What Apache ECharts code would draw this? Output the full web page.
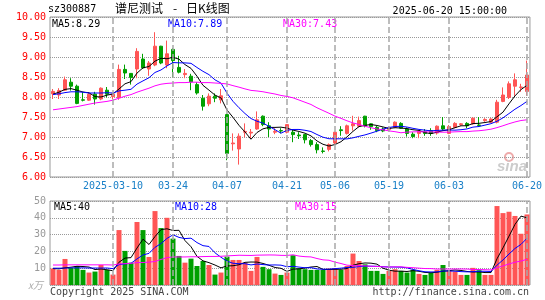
<!DOCTYPE html>
<html><head><meta charset="utf-8">
<script src="https://cdn.jsdelivr.net/npm/echarts@6/dist/echarts.min.js"></script>
<style>html,body{margin:0;padding:0;background:#fff}#c{width:545px;height:300px}</style>
</head><body><div id="c"></div>
<script>
const dates = ['2025-02-24','2025-02-25','2025-02-26','2025-02-27','2025-02-28',
'2025-03-03','2025-03-04','2025-03-05','2025-03-06','2025-03-07',
'2025-03-10','2025-03-11','2025-03-12','2025-03-13','2025-03-14',
'2025-03-17','2025-03-18','2025-03-19','2025-03-20','2025-03-21',
'2025-03-24','2025-03-25','2025-03-26','2025-03-27','2025-03-28','2025-03-31',
'2025-04-01','2025-04-02','2025-04-03',
'2025-04-07','2025-04-08','2025-04-09','2025-04-10','2025-04-11',
'2025-04-14','2025-04-15','2025-04-16','2025-04-17','2025-04-18',
'2025-04-21','2025-04-22','2025-04-23','2025-04-24','2025-04-25',
'2025-04-28','2025-04-29','2025-04-30',
'2025-05-06','2025-05-07','2025-05-08','2025-05-09',
'2025-05-12','2025-05-13','2025-05-14','2025-05-15','2025-05-16',
'2025-05-19','2025-05-20','2025-05-21','2025-05-22','2025-05-23',
'2025-05-26','2025-05-27','2025-05-28','2025-05-29','2025-05-30',
'2025-06-03','2025-06-04','2025-06-05','2025-06-06',
'2025-06-09','2025-06-10','2025-06-11','2025-06-12','2025-06-13',
'2025-06-16','2025-06-17','2025-06-18','2025-06-19','2025-06-20'];

const opens = [8.08,8.05,8.17,8.37,8.27,7.93,7.92,8.07,7.95,8.17,
8.01,7.98,8.69,8.59,8.70,8.95,8.70,8.80,9.27,8.80,
9.19,8.74,8.56,8.52,8.31,7.97,7.83,8.02,7.93,7.56,
6.83,6.70,7.12,7.10,7.20,7.52,7.28,7.12,7.16,7.12,
7.12,7.05,7.06,6.91,6.81,6.65,6.69,6.85,7.18,7.09,
7.28,7.27,7.52,7.33,7.24,7.20,7.19,7.24,7.34,7.20,
7.07,7.09,7.13,7.16,7.10,7.28,7.09,7.24,7.31,7.34,
7.33,7.30,7.41,7.37,7.37,7.89,7.99,8.27,8.24,8.14];
const closes = [8.14,8.16,8.43,8.27,7.84,7.92,8.07,7.95,8.22,8.07,
8.07,8.69,8.60,8.49,9.14,8.73,8.85,9.27,8.85,9.08,
8.91,8.62,8.59,8.38,8.10,7.77,8.02,7.97,8.03,6.59,
6.85,7.02,7.14,7.12,7.43,7.31,7.20,7.14,7.15,7.31,
7.06,7.03,6.93,6.81,6.68,6.64,6.81,7.12,7.16,7.28,
7.33,7.41,7.28,7.26,7.16,7.15,7.22,7.37,7.22,7.09,
7.01,7.14,7.09,7.09,7.27,7.20,7.26,7.34,7.33,7.28,
7.47,7.29,7.44,7.45,7.87,8.05,8.33,8.43,8.25,8.55];
const highs = [8.20,8.22,8.51,8.47,8.31,8.12,8.12,8.13,8.24,8.25,
8.10,8.81,8.81,8.60,9.22,9.08,8.90,9.62,9.28,9.41,
9.22,9.03,8.70,8.58,8.37,8.05,8.09,8.09,8.20,7.58,
7.09,7.09,7.34,7.20,7.64,7.54,7.37,7.22,7.22,7.32,
7.20,7.12,7.08,6.95,6.87,6.74,6.84,7.13,7.27,7.31,
7.53,7.51,7.53,7.34,7.28,7.24,7.26,7.39,7.37,7.24,
7.12,7.17,7.20,7.22,7.29,7.50,7.30,7.37,7.35,7.37,
7.49,7.50,7.47,7.47,7.93,8.24,8.39,8.59,8.33,8.91];
const lows = [7.95,7.95,8.15,8.16,7.82,7.89,7.90,7.81,7.92,7.99,
7.95,7.93,8.45,8.31,8.47,8.70,8.53,8.77,8.82,8.72,
8.49,8.59,8.47,8.17,8.06,7.66,7.77,7.87,7.84,6.42,
6.66,6.31,6.99,6.95,7.18,7.27,7.00,7.07,7.09,7.09,
6.87,6.95,6.84,6.76,6.59,6.59,6.64,6.82,7.03,7.06,
7.16,7.24,7.24,7.18,7.12,7.12,7.16,7.22,7.20,7.01,
6.97,6.97,7.03,7.03,7.06,7.16,7.07,7.22,7.28,7.22,
7.31,7.25,7.38,7.35,7.34,7.87,7.95,8.03,8.13,8.03];

const ma5 = [8.07,8.12,8.19,8.21,8.168,8.124,8.106,8.01,8.00,8.046,
8.076,8.20,8.33,8.384,8.598,8.73,8.762,8.896,8.968,8.956,
8.992,8.946,8.81,8.716,8.52,8.292,8.172,8.048,7.978,7.676,
7.492,7.292,7.126,6.944,7.112,7.204,7.24,7.24,7.246,7.222,
7.172,7.138,7.096,7.028,6.902,6.818,6.774,6.812,6.882,7.002,
7.14,7.26,7.292,7.312,7.288,7.252,7.214,7.232,7.224,7.21,
7.182,7.166,7.11,7.084,7.12,7.158,7.182,7.232,7.28,7.282,
7.336,7.342,7.362,7.386,7.504,7.62,7.828,8.026,8.186,8.29];
const ma10 = [8.06,8.08,8.11,8.13,8.13,8.12,8.10,8.10,8.10,8.107,
8.10,8.153,8.17,8.192,8.322,8.403,8.481,8.613,8.676,8.777,
8.861,8.854,8.853,8.842,8.738,8.642,8.559,8.429,8.347,8.098,
7.892,7.732,7.587,7.461,7.394,7.348,7.266,7.183,7.095,7.167,
7.188,7.189,7.168,7.137,7.062,6.995,6.956,6.954,6.955,6.952,
6.979,7.017,7.052,7.097,7.145,7.196,7.237,7.262,7.268,7.249,
7.217,7.19,7.171,7.154,7.165,7.17,7.174,7.171,7.182,7.201,
7.247,7.262,7.297,7.333,7.393,7.478,7.585,7.694,7.786,7.89];
const ma30 = [7.68,7.70,7.72,7.74,7.76,7.79,7.82,7.85,7.87,7.89,
7.92,7.97,8.02,8.06,8.12,8.17,8.22,8.28,8.32,8.34,
8.35,8.36,8.36,8.37,8.37,8.36,8.36,8.35,8.34,8.327,
8.284,8.246,8.203,8.165,8.151,8.131,8.102,8.075,8.039,8.014,
7.980,7.925,7.869,7.813,7.731,7.662,7.594,7.522,7.466,7.406,
7.353,7.313,7.269,7.232,7.200,7.180,7.153,7.133,7.106,7.123,
7.128,7.132,7.130,7.129,7.124,7.120,7.122,7.129,7.135,7.134,
7.148,7.156,7.173,7.195,7.234,7.281,7.332,7.376,7.412,7.43];

const volumes = [9.8,9.0,15.5,10.2,11.3,9.0,7.4,8.0,11.9,9.0,
6.2,32.7,20.3,13.3,37.5,32.7,16.7,44.0,33.9,40.0,
27.6,17.3,13.3,15.7,11.3,14.3,11.9,6.2,7.4,16.9,
14.9,14.9,13.3,8.4,16.7,10.8,9.4,6.8,6.0,7.4,
17.7,10.0,9.4,9.0,9.0,9.0,9.8,10.0,9.0,11.3,
18.7,14.3,12.3,8.4,8.4,6.6,8.4,9.4,8.4,7.4,
9.0,6.6,6.0,7.4,9.0,11.9,8.4,8.0,6.0,6.0,
10.2,8.8,6.0,6.0,47.0,42.8,43.6,41.1,30.5,42.0];
const volMa5 = [9.8,9.6,10.2,10.6,11.16,11.0,10.68,9.18,9.52,9.06,
8.5,13.56,16.02,16.3,22.0,27.3,24.1,28.84,32.96,33.46,
32.44,32.56,26.42,22.78,17.04,14.38,13.3,11.88,10.22,11.34,
11.46,12.06,13.48,13.68,13.64,12.82,11.72,10.42,9.94,8.08,
9.46,9.58,10.1,10.7,11.02,9.28,9.24,9.36,9.36,9.82,
11.76,12.66,13.12,13.0,12.42,10.0,8.82,8.24,8.24,8.04,
8.52,8.16,7.48,7.28,7.6,8.18,8.54,8.94,8.66,8.06,
7.72,7.8,7.4,7.4,15.6,22.12,29.08,36.1,41.0,40.0];
const volMa10 = [10.0,10.0,10.1,10.2,10.2,10.2,10.1,10.1,10.1,10.11,
9.75,12.12,12.6,12.91,15.53,17.9,18.83,22.43,24.63,27.73,
29.87,28.33,27.63,27.87,25.25,23.41,22.93,19.15,16.5,14.19,
12.92,12.68,12.68,11.95,12.49,12.14,11.89,11.95,11.81,10.86,
11.14,10.65,10.26,10.32,9.55,9.37,9.41,9.73,10.03,10.42,
10.52,10.95,11.24,11.18,11.12,10.88,10.74,10.68,10.62,10.23,
9.26,8.49,7.86,7.76,7.82,8.35,8.35,8.21,7.97,7.83,
7.95,8.17,8.17,8.03,11.83,14.92,18.44,21.75,24.2,27.8];
const volMa30 = [11.9,11.9,12.0,12.0,12.0,12.0,12.0,12.0,12.0,12.0,
11.9,12.5,12.7,12.9,13.3,13.4,13.6,14.0,15.2,16.3,
16.7,16.7,16.7,16.8,16.8,16.9,17.0,17.0,17.1,17.34,
17.51,17.71,17.64,17.58,17.76,17.82,17.88,17.84,17.65,17.59,
17.98,17.22,16.86,16.71,15.76,14.97,14.74,13.61,12.78,11.82,
11.53,11.43,11.39,11.15,11.05,10.80,10.68,10.79,10.82,10.50,
10.31,10.03,9.79,9.75,9.50,9.53,9.50,9.54,9.54,9.49,
9.24,9.20,9.09,8.99,10.26,11.38,12.51,13.55,14.26,15.29];

const labelIdx = [10,20,29,39,47,56,66,79];
const labelText = ['2025-03-10','03-24','04-07','04-21','05-06','05-19','06-03','06-20'];
const priceLegend = ['MA5:8.29','MA10:7.89','MA30:7.43'];
const volLegend = ['MA5:40','MA10:28','MA30:15'];

const UP = '#ff5555', DOWN = '#00a000';
const MONO = "'DejaVu Sans Mono', 'Liberation Mono', monospace";
const CJK = "'Noto Sans CJK SC', sans-serif";

const kData = dates.map((d,i)=>[opens[i],closes[i],lows[i],highs[i]]);
const volData = volumes.map((v,i)=>({value:v, itemStyle:{color: closes[i]>=opens[i]?UP:DOWN}}));

const isLabel = (i)=>labelIdx.indexOf(i)>=0;
function hSplit(){ return {show:true, lineStyle:{color:'#999', type:'dotted', width:1}}; }
// vertical date gridlines drawn as markLines on the real series, at labelled categories
function dateMarkLine(){
  return {symbol:['none','none'], silent:true, animation:false, label:{show:false},
    emphasis:{disabled:true},
    lineStyle:{color:'#a8a8a8', type:'dashed', width:1.5, opacity:1},
    data: labelIdx.map(k=>({xAxis:dates[k]}))};
}

const GRIDS = [{left:50, top:17, width:480, height:160}, {left:50, top:201, width:480, height:84}];

const chart = echarts.init(document.getElementById('c'), null, {renderer:'canvas'});
chart.setOption({
  animation:false,
  backgroundColor:'#fff',
  grid: GRIDS.map(g=>Object.assign({show:true, borderColor:'#999', borderWidth:1}, g)),
  xAxis:[
    {type:'category', gridIndex:0, data:dates, boundaryGap:true,
     axisLine:{show:false}, axisTick:{show:false},
     axisLabel:{show:true, interval:(i)=>isLabel(i), color:'#1a80c8', fontFamily:MONO, fontSize:10, margin:4,
       formatter:(v,i)=>{const k=labelIdx.indexOf(i); return k>=0?labelText[k]:'';}},
     splitLine:{show:false}},
    {type:'category', gridIndex:1, data:dates, boundaryGap:true,
     axisLine:{show:false}, axisTick:{show:false}, axisLabel:{show:false}, splitLine:{show:false}}
  ],
  yAxis:[
    {type:'value', gridIndex:0, min:6, max:10, interval:0.5,
     axisLine:{show:false}, axisTick:{show:false},
     axisLabel:{color:'#f00', fontFamily:MONO, fontSize:10, margin:4, formatter:(v)=>v.toFixed(2)},
     splitLine:hSplit()},
    {type:'value', gridIndex:1, min:0, max:50, interval:10,
     axisLine:{show:false}, axisTick:{show:false},
     axisLabel:{color:'#999', fontFamily:MONO, fontSize:10, margin:4, formatter:(v)=>v===0?'':String(v)},
     splitLine:hSplit()}
  ],
  series:[
    {type:'candlestick', xAxisIndex:0, yAxisIndex:0, data:kData, barWidth:4, z:3,
     itemStyle:{color:UP, color0:DOWN, borderColor:UP, borderColor0:DOWN, borderWidth:1},
     markLine: dateMarkLine()},
    {type:'line', xAxisIndex:0, yAxisIndex:0, data:ma5, symbol:'none', z:4, lineStyle:{color:'#000', width:1}},
    {type:'line', xAxisIndex:0, yAxisIndex:0, data:ma10, symbol:'none', z:4, lineStyle:{color:'#0000ff', width:1}},
    {type:'line', xAxisIndex:0, yAxisIndex:0, data:ma30, symbol:'none', z:4, lineStyle:{color:'#ff00ff', width:1}},
    {type:'bar', xAxisIndex:1, yAxisIndex:1, data:volData, barWidth:5, z:3, markLine: dateMarkLine()},
    {type:'line', xAxisIndex:1, yAxisIndex:1, data:volMa5, symbol:'none', z:4, lineStyle:{color:'#000', width:1}},
    {type:'line', xAxisIndex:1, yAxisIndex:1, data:volMa10, symbol:'none', z:4, lineStyle:{color:'#0000ff', width:1}},
    {type:'line', xAxisIndex:1, yAxisIndex:1, data:volMa30, symbol:'none', z:4, lineStyle:{color:'#ff00ff', width:1}}
  ],
  graphic:[
    {type:'text', left:48, top:4, style:{text:'sz300887', fill:'#000', font:'10px '+MONO}},
    {type:'text', left:115, top:2, style:{text:'谱尼测试', fill:'#000', font:'12px '+CJK}},
    {type:'text', left:173, top:2, style:{text:'-', fill:'#000', font:'12px '+CJK}},
    {type:'text', left:186, top:2, style:{text:'日K线图', fill:'#000', font:'12px '+CJK}},
    {type:'text', right:38, top:6, style:{text:'2025-06-20 15:00:00', fill:'#000', font:'10px '+MONO}},
    {type:'text', left:52, top:19, style:{text:priceLegend[0], fill:'#000', font:'10px '+MONO}},
    {type:'text', left:168, top:19, style:{text:priceLegend[1], fill:'#0000ff', font:'10px '+MONO}},
    {type:'text', left:283, top:19, style:{text:priceLegend[2], fill:'#ff00ff', font:'10px '+MONO}},
    {type:'text', left:54, top:202, style:{text:volLegend[0], fill:'#000', font:'10px '+MONO}},
    {type:'text', left:175, top:202, style:{text:volLegend[1], fill:'#0000ff', font:'10px '+MONO}},
    {type:'text', left:295, top:202, style:{text:volLegend[2], fill:'#ff00ff', font:'10px '+MONO}},
    {type:'text', left:28, top:280, style:{text:'x万', fill:'#aaa', font:'italic 10px '+CJK}},
    {type:'text', left:50, top:287, style:{text:'Copyright 2025 SINA.COM', fill:'#444', font:'10px '+MONO}},
    {type:'text', right:16, top:287, style:{text:'http://finance.sina.com.cn', fill:'#444', font:'10px '+MONO}},
    {type:'circle', shape:{cx:509, cy:157, r:4}, style:{fill:'none', stroke:'#eaa', lineWidth:2}, z:0},
    {type:'text', left:497, top:159, style:{text:'sina', fill:'#ccc', font:'italic bold 15px sans-serif'}, z:0}
  ]
});
</script></body></html>
